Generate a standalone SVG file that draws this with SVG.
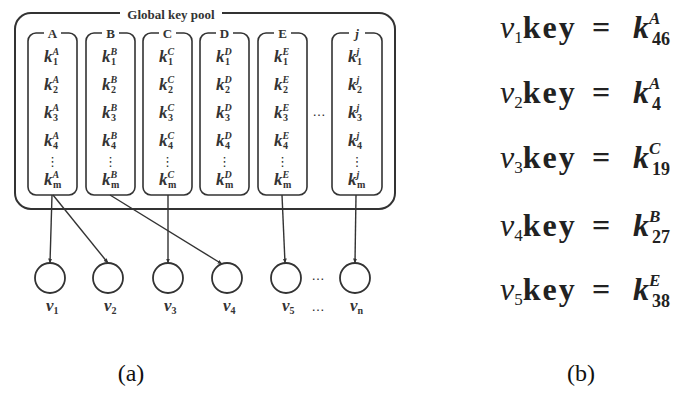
<svg xmlns="http://www.w3.org/2000/svg" width="681" height="393" viewBox="0 0 681 393">
<defs>
<style>
.box{fill:none;stroke:#333;stroke-width:1.6}
.outer{fill:none;stroke:#333;stroke-width:2}
.lbl{font-family:"Liberation Serif",serif;font-weight:bold;font-size:13px;fill:#333;text-anchor:middle}
.k{font-family:"Liberation Serif",serif;font-weight:bold;font-style:italic;font-size:17px;fill:#333}
.s{font-size:10px}
.n{font-style:normal}
.dots{font-family:"DejaVu Sans",sans-serif;font-size:13px;fill:#333;text-anchor:middle}
.edge{fill:none;stroke:#333;stroke-width:1.4;marker-end:url(#ah)}
.circ{fill:#fff;stroke:#333;stroke-width:1.8}
.vl{font-family:"Liberation Serif",serif;font-weight:bold;font-style:italic;font-size:17px;fill:#333}
.eq{font-family:"Liberation Serif",serif;font-size:32px;fill:#222}
.sc{font-size:17px}
.sd{font-size:18px;font-style:normal;font-weight:bold}
.cap{font-family:"Liberation Serif",serif;font-size:24px;fill:#111;text-anchor:middle}
</style>
<marker id="ah" viewBox="0 0 10 10" refX="9" refY="5" markerWidth="5" markerHeight="5" orient="auto" markerUnits="userSpaceOnUse">
<path d="M0,1 L10,5 L0,9 z" fill="#333"/>
</marker>
</defs>
<rect width="681" height="393" fill="#fff"/>

<g id="pool">
<path class="outer" d="M120,13 H31 A16,16 0 0 0 15,29 V193 A16,16 0 0 0 31,209 H379 A16,16 0 0 0 395,193 V29 A16,16 0 0 0 379,13 H222"/>
<text class="lbl" x="171" y="19" font-size="13">Global key pool</text>
</g>

<g id="colA">
<path class="box" d="M44,33 H36 A8,8 0 0 0 28,41 V187 A8,8 0 0 0 36,195 H69 A8,8 0 0 0 77,187 V41 A8,8 0 0 0 69,33 H61"/>
<text class="lbl" x="52.5" y="38">A</text>
<text class="k" x="44" y="62">k<tspan class="s" dy="-7">A</tspan><tspan class="s n" x="53" dy="10">1</tspan></text>
<text class="k" x="44" y="90">k<tspan class="s" dy="-7">A</tspan><tspan class="s n" x="53" dy="10">2</tspan></text>
<text class="k" x="44" y="118">k<tspan class="s" dy="-7">A</tspan><tspan class="s n" x="53" dy="10">3</tspan></text>
<text class="k" x="44" y="146">k<tspan class="s" dy="-7">A</tspan><tspan class="s n" x="53" dy="10">4</tspan></text>
<text class="dots" x="52.5" y="166">⋮</text>
<text class="k" x="44" y="185">k<tspan class="s" dy="-7">A</tspan><tspan class="s n" x="53" dy="10">m</tspan></text>
</g>

<g id="colB">
<path class="box" d="M102,33 H94 A8,8 0 0 0 86,41 V187 A8,8 0 0 0 94,195 H127 A8,8 0 0 0 135,187 V41 A8,8 0 0 0 127,33 H119"/>
<text class="lbl" x="110.5" y="38">B</text>
<text class="k" x="102" y="62">k<tspan class="s" dy="-7">B</tspan><tspan class="s n" x="111" dy="10">1</tspan></text>
<text class="k" x="102" y="90">k<tspan class="s" dy="-7">B</tspan><tspan class="s n" x="111" dy="10">2</tspan></text>
<text class="k" x="102" y="118">k<tspan class="s" dy="-7">B</tspan><tspan class="s n" x="111" dy="10">3</tspan></text>
<text class="k" x="102" y="146">k<tspan class="s" dy="-7">B</tspan><tspan class="s n" x="111" dy="10">4</tspan></text>
<text class="dots" x="110.5" y="166">⋮</text>
<text class="k" x="102" y="185">k<tspan class="s" dy="-7">B</tspan><tspan class="s n" x="111" dy="10">m</tspan></text>
</g>

<g id="colC">
<path class="box" d="M159,33 H151 A8,8 0 0 0 143,41 V187 A8,8 0 0 0 151,195 H184 A8,8 0 0 0 192,187 V41 A8,8 0 0 0 184,33 H176"/>
<text class="lbl" x="167.5" y="38">C</text>
<text class="k" x="159" y="62">k<tspan class="s" dy="-7">C</tspan><tspan class="s n" x="168" dy="10">1</tspan></text>
<text class="k" x="159" y="90">k<tspan class="s" dy="-7">C</tspan><tspan class="s n" x="168" dy="10">2</tspan></text>
<text class="k" x="159" y="118">k<tspan class="s" dy="-7">C</tspan><tspan class="s n" x="168" dy="10">3</tspan></text>
<text class="k" x="159" y="146">k<tspan class="s" dy="-7">C</tspan><tspan class="s n" x="168" dy="10">4</tspan></text>
<text class="dots" x="167.5" y="166">⋮</text>
<text class="k" x="159" y="185">k<tspan class="s" dy="-7">C</tspan><tspan class="s n" x="168" dy="10">m</tspan></text>
</g>

<g id="colD">
<path class="box" d="M216,33 H208 A8,8 0 0 0 200,41 V187 A8,8 0 0 0 208,195 H241 A8,8 0 0 0 249,187 V41 A8,8 0 0 0 241,33 H233"/>
<text class="lbl" x="224.5" y="38">D</text>
<text class="k" x="216" y="62">k<tspan class="s" dy="-7">D</tspan><tspan class="s n" x="225" dy="10">1</tspan></text>
<text class="k" x="216" y="90">k<tspan class="s" dy="-7">D</tspan><tspan class="s n" x="225" dy="10">2</tspan></text>
<text class="k" x="216" y="118">k<tspan class="s" dy="-7">D</tspan><tspan class="s n" x="225" dy="10">3</tspan></text>
<text class="k" x="216" y="146">k<tspan class="s" dy="-7">D</tspan><tspan class="s n" x="225" dy="10">4</tspan></text>
<text class="dots" x="224.5" y="166">⋮</text>
<text class="k" x="216" y="185">k<tspan class="s" dy="-7">D</tspan><tspan class="s n" x="225" dy="10">m</tspan></text>
</g>

<g id="colE">
<path class="box" d="M274,33 H266 A8,8 0 0 0 258,41 V187 A8,8 0 0 0 266,195 H299 A8,8 0 0 0 307,187 V41 A8,8 0 0 0 299,33 H291"/>
<text class="lbl" x="282.5" y="38">E</text>
<text class="k" x="274" y="62">k<tspan class="s" dy="-7">E</tspan><tspan class="s n" x="283" dy="10">1</tspan></text>
<text class="k" x="274" y="90">k<tspan class="s" dy="-7">E</tspan><tspan class="s n" x="283" dy="10">2</tspan></text>
<text class="k" x="274" y="118">k<tspan class="s" dy="-7">E</tspan><tspan class="s n" x="283" dy="10">3</tspan></text>
<text class="k" x="274" y="146">k<tspan class="s" dy="-7">E</tspan><tspan class="s n" x="283" dy="10">4</tspan></text>
<text class="dots" x="282.5" y="166">⋮</text>
<text class="k" x="274" y="185">k<tspan class="s" dy="-7">E</tspan><tspan class="s n" x="283" dy="10">m</tspan></text>
</g>

<text class="dots" x="319" y="116">…</text>

<g id="colJ">
<path class="box" d="M349,33 H340 A8,8 0 0 0 332,41 V187 A8,8 0 0 0 340,195 H374 A8,8 0 0 0 382,187 V41 A8,8 0 0 0 374,33 H365"/>
<text class="lbl" x="357" y="38" font-style="italic">j</text>
<text class="k" x="348" y="62">k<tspan class="s" dy="-7">j</tspan><tspan class="s n" x="357" dy="10">1</tspan></text>
<text class="k" x="348" y="90">k<tspan class="s" dy="-7">j</tspan><tspan class="s n" x="357" dy="10">2</tspan></text>
<text class="k" x="348" y="118">k<tspan class="s" dy="-7">j</tspan><tspan class="s n" x="357" dy="10">3</tspan></text>
<text class="k" x="348" y="146">k<tspan class="s" dy="-7">j</tspan><tspan class="s n" x="357" dy="10">4</tspan></text>
<text class="dots" x="357" y="166">⋮</text>
<text class="k" x="348" y="185">k<tspan class="s" dy="-7">j</tspan><tspan class="s n" x="357" dy="10">m</tspan></text>
</g>

<g id="connectors">
<line class="edge" x1="52" y1="195" x2="50" y2="263"/>
<line class="edge" x1="53" y1="195" x2="108" y2="263"/>
<line class="edge" x1="110" y1="195" x2="222" y2="264"/>
<line class="edge" x1="168" y1="195" x2="168" y2="263"/>
<line class="edge" x1="282" y1="195" x2="285" y2="263"/>
<line class="edge" x1="356" y1="195" x2="355" y2="263"/>
</g>

<g id="v1"><circle class="circ" cx="50" cy="278" r="15"/><text class="vl" x="46" y="311">v<tspan class="s n" dy="3">1</tspan></text></g>
<g id="v2"><circle class="circ" cx="108" cy="278" r="15"/><text class="vl" x="104" y="311">v<tspan class="s n" dy="3">2</tspan></text></g>
<g id="v3"><circle class="circ" cx="168" cy="278" r="15"/><text class="vl" x="164" y="311">v<tspan class="s n" dy="3">3</tspan></text></g>
<g id="v4"><circle class="circ" cx="227" cy="278" r="15"/><text class="vl" x="223" y="311">v<tspan class="s n" dy="3">4</tspan></text></g>
<g id="v5"><circle class="circ" cx="286" cy="278" r="15"/><text class="vl" x="282" y="311">v<tspan class="s n" dy="3">5</tspan></text></g>
<text class="dots" x="318" y="280">…</text>
<text class="dots" x="318" y="311">…</text>
<g id="vn"><circle class="circ" cx="355" cy="278" r="15"/><text class="vl" x="350" y="311">v<tspan class="s n" dy="3">n</tspan></text></g>

<g id="equations">
<text class="eq" x="500" y="38"><tspan font-style="italic">v</tspan><tspan class="sc" dy="5">1</tspan><tspan font-weight="bold" dy="-5" letter-spacing="2">key</tspan></text>
<text class="eq" x="592" y="38" font-weight="bold">=</text>
<text class="eq" x="633" y="38" font-weight="bold" font-style="italic">k<tspan class="sc" dy="-14">A</tspan><tspan class="sd" x="652" dy="21">46</tspan></text>

<text class="eq" x="500" y="103"><tspan font-style="italic">v</tspan><tspan class="sc" dy="5">2</tspan><tspan font-weight="bold" dy="-5" letter-spacing="2">key</tspan></text>
<text class="eq" x="592" y="103" font-weight="bold">=</text>
<text class="eq" x="633" y="103" font-weight="bold" font-style="italic">k<tspan class="sc" dy="-14">A</tspan><tspan class="sd" x="652" dy="21">4</tspan></text>

<text class="eq" x="500" y="168"><tspan font-style="italic">v</tspan><tspan class="sc" dy="5">3</tspan><tspan font-weight="bold" dy="-5" letter-spacing="2">key</tspan></text>
<text class="eq" x="592" y="168" font-weight="bold">=</text>
<text class="eq" x="633" y="168" font-weight="bold" font-style="italic">k<tspan class="sc" dy="-14">C</tspan><tspan class="sd" x="652" dy="21">19</tspan></text>

<text class="eq" x="500" y="236"><tspan font-style="italic">v</tspan><tspan class="sc" dy="5">4</tspan><tspan font-weight="bold" dy="-5" letter-spacing="2">key</tspan></text>
<text class="eq" x="592" y="236" font-weight="bold">=</text>
<text class="eq" x="633" y="236" font-weight="bold" font-style="italic">k<tspan class="sc" dy="-14">B</tspan><tspan class="sd" x="652" dy="21">27</tspan></text>

<text class="eq" x="500" y="300"><tspan font-style="italic">v</tspan><tspan class="sc" dy="5">5</tspan><tspan font-weight="bold" dy="-5" letter-spacing="2">key</tspan></text>
<text class="eq" x="592" y="300" font-weight="bold">=</text>
<text class="eq" x="633" y="300" font-weight="bold" font-style="italic">k<tspan class="sc" dy="-14">E</tspan><tspan class="sd" x="652" dy="21">38</tspan></text>
</g>

<text class="cap" x="131" y="381">(a)</text>
<text class="cap" x="581" y="381">(b)</text>
</svg>
